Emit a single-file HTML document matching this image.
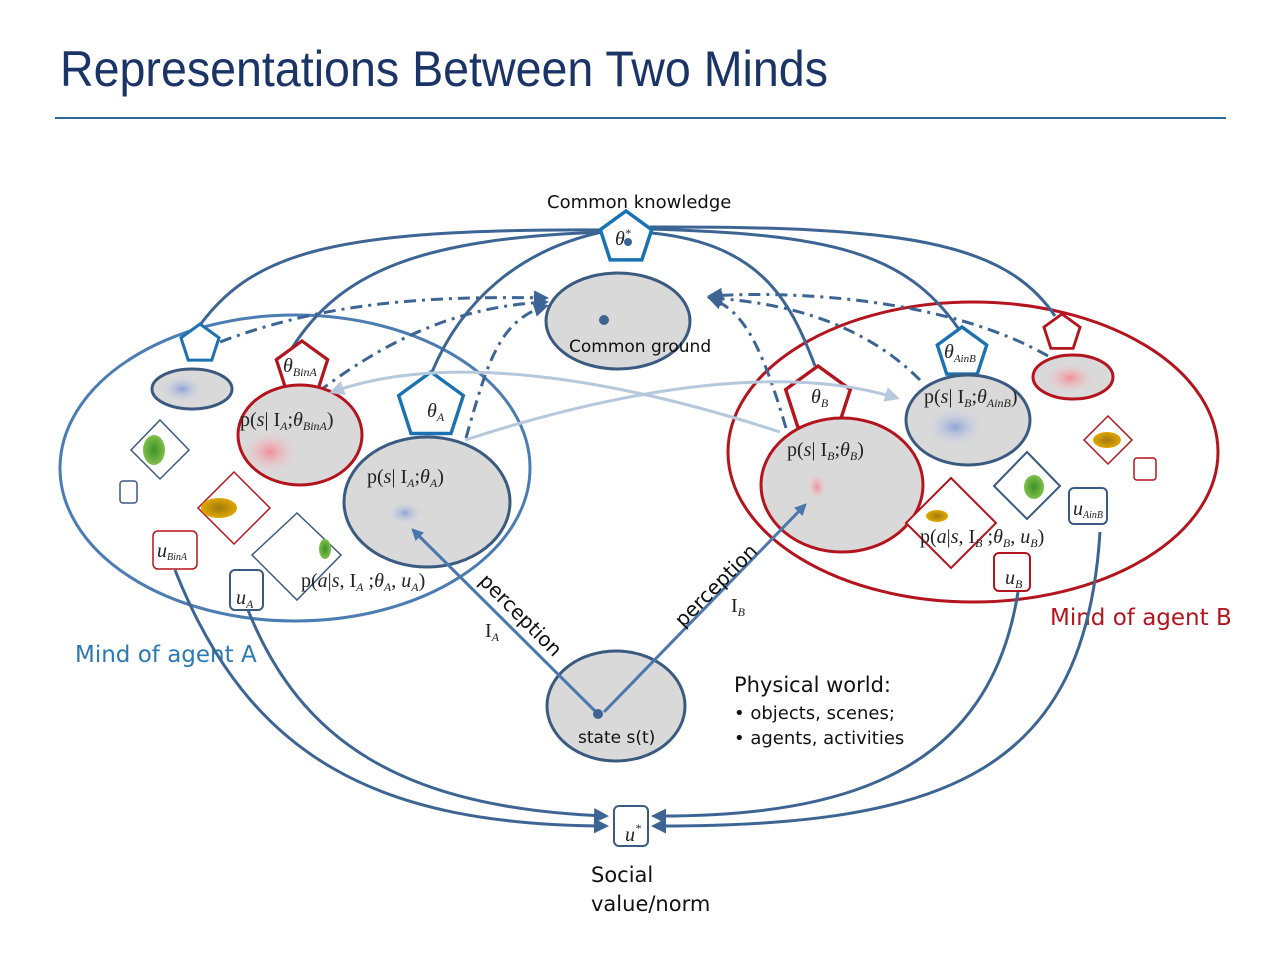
<!DOCTYPE html>
<html><head><meta charset="utf-8"><style>
html,body{margin:0;padding:0;background:#fff;}
svg{display:block;}
.m{font-family:"Liberation Serif",serif;font-size:20px;fill:#222;}
.s{font-family:"DejaVu Sans","Liberation Sans",sans-serif;fill:#111;}
</style></head><body>
<svg width="1280" height="960" viewBox="0 0 1280 960" xmlns="http://www.w3.org/2000/svg">
<defs>
<radialGradient id="gb"><stop offset="0" stop-color="#8fa5d6"/><stop offset="1" stop-color="#d6d9e3" stop-opacity="0"/></radialGradient>
<radialGradient id="gr"><stop offset="0" stop-color="#f08f99"/><stop offset="1" stop-color="#f4c0c6" stop-opacity="0"/></radialGradient>
<radialGradient id="gg"><stop offset="0" stop-color="#3f8f2a"/><stop offset="1" stop-color="#7fc04a"/></radialGradient>
<radialGradient id="gy"><stop offset="0" stop-color="#a07a10"/><stop offset="1" stop-color="#e0a800"/></radialGradient>
<marker id="ar" viewBox="0 0 10 10" refX="8" refY="5" markerWidth="5" markerHeight="5" orient="auto"><path d="M0,0 L10,5 L0,10 z" fill="#3d6594"/></marker>
<marker id="al" viewBox="0 0 10 10" refX="8" refY="5" markerWidth="5" markerHeight="5" orient="auto"><path d="M0,0 L10,5 L0,10 z" fill="#b6c8dc"/></marker>
<marker id="ap" viewBox="0 0 10 10" refX="8" refY="5" markerWidth="4" markerHeight="4" orient="auto"><path d="M0,0 L10,5 L0,10 z" fill="#4a78ad"/></marker>
<polygon id="pent" points="0,-1 0.951,-0.309 0.588,0.809 -0.588,0.809 -0.951,-0.309"/>
</defs>

<text x="60" y="86" font-family="'Liberation Sans Narrow','Liberation Sans',sans-serif" font-size="50" fill="#1b3468" textLength="768" lengthAdjust="spacingAndGlyphs">Representations Between Two Minds</text>
<line x1="55" y1="118" x2="1226" y2="118" stroke="#2b6a9e" stroke-width="2"/>

<ellipse cx="295" cy="468" rx="235" ry="153" fill="none" stroke="#4b7db3" stroke-width="3"/>
<ellipse cx="973" cy="452" rx="245" ry="150" fill="none" stroke="#b3141d" stroke-width="3"/>

<g fill="none" stroke="#3d6594" stroke-width="3">
<path d="M612,230 C330,228 250,252 195,332"/>
<path d="M606,232 C420,238 340,272 292,348"/>
<path d="M602,232 C520,250 462,300 432,372"/>
<path d="M640,232 C760,240 790,300 815,366"/>
<path d="M648,229 C830,234 905,252 958,328"/>
<path d="M650,227 C905,226 1005,242 1055,316"/>
</g>

<g fill="none" stroke="#3d6594" stroke-width="3" stroke-dasharray="12,6,3,6">
<path d="M220,342 C330,300 440,296 546,298" marker-end="url(#ar)"/>
<path d="M318,392 C400,330 470,306 546,302" marker-end="url(#ar)"/>
<path d="M466,438 C488,360 500,320 546,306" marker-end="url(#ar)"/>
<path d="M786,428 C760,340 742,310 710,298" marker-end="url(#ar)"/>
<path d="M920,380 C860,320 780,302 710,298" marker-end="url(#ar)"/>
<path d="M1048,356 C950,300 800,290 710,296" marker-end="url(#ar)"/>
</g>

<ellipse cx="618" cy="321" rx="72" ry="48" fill="#d9d9d9" stroke="#3a5a80" stroke-width="3"/>
<circle cx="604" cy="320" r="5" fill="#3d6594"/>
<text x="569" y="352" class="s" font-size="17">Common ground</text>

<use href="#pent" transform="translate(626,238) scale(27)" fill="#fff" stroke="#1a72b0" stroke-width="0.13"/>
<text x="615" y="245" class="m" font-style="italic">θ<tspan font-size="12" dy="-8">*</tspan></text>
<circle cx="628" cy="242" r="4" fill="#3d6594"/>
<text x="547" y="208" class="s" font-size="18">Common knowledge</text>

<ellipse cx="192" cy="389" rx="40" ry="20" fill="#d9d9d9" stroke="#3a5a80" stroke-width="3"/>
<ellipse cx="182" cy="389" rx="22" ry="14" fill="url(#gb)"/>
<use href="#pent" transform="translate(200,344) scale(20)" fill="#fff" stroke="#1a72b0" stroke-width="0.15"/>
<use href="#pent" transform="translate(302,368) scale(27)" fill="#fff" stroke="#b3141d" stroke-width="0.12"/>
<text x="283" y="372" class="m" font-size="17" font-style="italic">θ<tspan font-size="12" dy="4">BinA</tspan></text>

<ellipse cx="300" cy="435" rx="62" ry="50" fill="#d9d9d9" stroke="#b3141d" stroke-width="3"/>
<ellipse cx="270" cy="452" rx="26" ry="20" fill="url(#gr)"/>
<text x="240" y="426" class="m">p(<tspan font-style="italic">s</tspan>| I<tspan font-size="12" dy="4" font-style="italic">A</tspan><tspan dy="-4">;</tspan><tspan font-style="italic">θ</tspan><tspan font-size="12" dy="4" font-style="italic">BinA</tspan><tspan dy="-4">)</tspan></text>

<use href="#pent" transform="translate(431,406) scale(34)" fill="#fff" stroke="#1a72b0" stroke-width="0.1"/>
<text x="427" y="417" class="m" font-style="italic">θ<tspan font-size="12" dy="4">A</tspan></text>

<ellipse cx="427" cy="502" rx="83" ry="65" fill="#d9d9d9" stroke="#3a5a80" stroke-width="3"/>
<ellipse cx="405" cy="513" rx="18" ry="12" fill="url(#gb)"/>
<text x="367" y="483" class="m">p(<tspan font-style="italic">s</tspan>| I<tspan font-size="12" dy="4" font-style="italic">A</tspan><tspan dy="-4">;</tspan><tspan font-style="italic">θ</tspan><tspan font-size="12" dy="4" font-style="italic">A</tspan><tspan dy="-4">)</tspan></text>

<polygon points="160,420 189,450 160,479 131,450" fill="#fff" stroke="#3a5a80" stroke-width="1.5"/>
<ellipse cx="154" cy="450" rx="11" ry="15" fill="url(#gg)"/>
<rect x="120" y="481" width="17" height="22" rx="3" fill="#fff" stroke="#3a5a80" stroke-width="1.5"/>
<polygon points="234,472 270,508 234,544 198,508" fill="#fff" stroke="#b3141d" stroke-width="1.5"/>
<ellipse cx="219" cy="508" rx="18" ry="10" fill="url(#gy)"/>
<polygon points="297,513 341,555 297,600 252,555" fill="#fff" stroke="#3a5a80" stroke-width="1.5"/>
<ellipse cx="325" cy="549" rx="6" ry="10" fill="url(#gg)"/>
<text x="301" y="587" class="m">p(<tspan font-style="italic">a</tspan>|<tspan font-style="italic">s</tspan>, I<tspan font-size="12" dy="4" font-style="italic">A</tspan><tspan dy="-4"> ;</tspan><tspan font-style="italic">θ</tspan><tspan font-size="12" dy="4" font-style="italic">A</tspan><tspan dy="-4">, </tspan><tspan font-style="italic">u</tspan><tspan font-size="12" dy="4" font-style="italic">A</tspan><tspan dy="-4">)</tspan></text>
<rect x="153" y="531" width="44" height="38" rx="5" fill="#fff" stroke="#b3141d" stroke-width="1.5"/>
<text x="157" y="557" class="m" font-size="15" font-style="italic">u<tspan font-size="10" dy="3">BinA</tspan></text>
<rect x="230" y="570" width="33" height="40" rx="5" fill="#fff" stroke="#3a5a80" stroke-width="2"/>
<text x="236" y="604" class="m" font-style="italic">u<tspan font-size="12" dy="4">A</tspan></text>

<text x="75" y="662" class="s" font-size="23" style="fill:#2b7ab5">Mind of agent A</text>

<use href="#pent" transform="translate(818,400) scale(34)" fill="#fff" stroke="#b3141d" stroke-width="0.1"/>
<text x="811" y="403" class="m" font-style="italic">θ<tspan font-size="12" dy="4">B</tspan></text>
<ellipse cx="842" cy="485" rx="81" ry="67" fill="#d9d9d9" stroke="#b3141d" stroke-width="3"/>
<ellipse cx="817" cy="487" rx="9" ry="13" fill="url(#gr)"/>
<text x="787" y="456" class="m">p(<tspan font-style="italic">s</tspan>| I<tspan font-size="12" dy="4" font-style="italic">B</tspan><tspan dy="-4">;</tspan><tspan font-style="italic">θ</tspan><tspan font-size="12" dy="4" font-style="italic">B</tspan><tspan dy="-4">)</tspan></text>

<use href="#pent" transform="translate(962,353) scale(26)" fill="#fff" stroke="#1a72b0" stroke-width="0.13"/>
<text x="944" y="358" class="m" font-size="17" font-style="italic">θ<tspan font-size="11" dy="4">AinB</tspan></text>
<ellipse cx="968" cy="420" rx="62" ry="45" fill="#d9d9d9" stroke="#3a5a80" stroke-width="3"/>
<ellipse cx="955" cy="427" rx="30" ry="20" fill="url(#gb)"/>
<text x="924" y="403" class="m">p(<tspan font-style="italic">s</tspan>| I<tspan font-size="12" dy="4" font-style="italic">B</tspan><tspan dy="-4">;</tspan><tspan font-style="italic">θ</tspan><tspan font-size="12" dy="4" font-style="italic">AinB</tspan><tspan dy="-4">)</tspan></text>

<use href="#pent" transform="translate(1062,333) scale(19)" fill="#fff" stroke="#b3141d" stroke-width="0.15"/>
<ellipse cx="1073" cy="377" rx="40" ry="22" fill="#d9d9d9" stroke="#b3141d" stroke-width="3"/>
<ellipse cx="1070" cy="378" rx="24" ry="14" fill="url(#gr)"/>

<polygon points="1108,416 1132,440 1108,464 1084,440" fill="#fff" stroke="#b3141d" stroke-width="1.5"/>
<ellipse cx="1107" cy="440" rx="14" ry="8" fill="url(#gy)"/>
<rect x="1134" y="458" width="22" height="22" rx="3" fill="#fff" stroke="#b3141d" stroke-width="1.5"/>
<polygon points="1027,452 1060,486 1027,519 994,486" fill="#fff" stroke="#3a5a80" stroke-width="2"/>
<ellipse cx="1034" cy="487" rx="10" ry="12" fill="url(#gg)"/>
<rect x="1069" y="488" width="38" height="36" rx="5" fill="#fff" stroke="#3a5a80" stroke-width="2"/>
<text x="1073" y="515" class="m" font-size="15" font-style="italic">u<tspan font-size="10" dy="3">AinB</tspan></text>
<polygon points="951,478 996,523 951,568 906,523" fill="#fff" stroke="#b3141d" stroke-width="2"/>
<ellipse cx="937" cy="516" rx="11" ry="6" fill="url(#gy)"/>
<text x="920" y="543" class="m">p(<tspan font-style="italic">a</tspan>|<tspan font-style="italic">s</tspan>, I<tspan font-size="12" dy="4" font-style="italic">B</tspan><tspan dy="-4"> ;</tspan><tspan font-style="italic">θ</tspan><tspan font-size="12" dy="4" font-style="italic">B</tspan><tspan dy="-4">, </tspan><tspan font-style="italic">u</tspan><tspan font-size="12" dy="4" font-style="italic">B</tspan><tspan dy="-4">)</tspan></text>
<rect x="994" y="553" width="36" height="38" rx="5" fill="#fff" stroke="#b3141d" stroke-width="2"/>
<text x="1005" y="584" class="m" font-style="italic">u<tspan font-size="12" dy="4">B</tspan></text>

<text x="1050" y="625" class="s" font-size="23" style="fill:#b3141d">Mind of agent B</text>

<g fill="none" stroke="#b6c8dc" stroke-width="3">
<path d="M465,440 C620,390 780,362 897,398" marker-end="url(#al)"/>
<path d="M780,432 C620,380 450,350 332,392" marker-end="url(#al)"/>
</g>

<ellipse cx="616" cy="706" rx="69" ry="55" fill="#d9d9d9" stroke="#3a5a80" stroke-width="3"/>
<g stroke="#4a78ad" stroke-width="3" fill="none">
<line x1="597" y1="713" x2="413" y2="530" marker-end="url(#ap)"/>
<line x1="604" y1="712" x2="805" y2="505" marker-end="url(#ap)"/>
</g>
<circle cx="598" cy="714" r="5" fill="#3d6594"/>
<text x="578" y="743" class="s" font-size="17">state s(t)</text>
<text transform="translate(478,582) rotate(45)" class="s" font-size="20">perception</text>
<text transform="translate(683,628) rotate(-45)" class="s" font-size="20">perception</text>
<text x="485" y="637" class="m">I<tspan font-size="12" dy="4" font-style="italic">A</tspan></text>
<text x="731" y="612" class="m">I<tspan font-size="12" dy="4" font-style="italic">B</tspan></text>
<text x="734" y="692" class="s" font-size="21">Physical world:</text>
<text x="734" y="719" class="s" font-size="18">•  objects, scenes;</text>
<text x="734" y="744" class="s" font-size="18">•  agents, activities</text>

<g fill="none" stroke="#3d6594" stroke-width="3">
<path d="M175,570 C250,760 380,825 606,826" marker-end="url(#ar)"/>
<path d="M248,610 C300,740 400,808 606,816" marker-end="url(#ar)"/>
<path d="M1018,592 C990,770 850,817 654,816" marker-end="url(#ar)"/>
<path d="M1100,532 C1085,770 950,827 654,826" marker-end="url(#ar)"/>
</g>
<rect x="614" y="806" width="34" height="40" rx="5" fill="#fff" stroke="#3a5a80" stroke-width="2"/>
<text x="625" y="841" class="m" font-style="italic">u<tspan font-size="12" dy="-9">*</tspan></text>
<text x="591" y="882" class="s" font-size="21">Social</text>
<text x="591" y="911" class="s" font-size="21">value/norm</text>
</svg>
</body></html>
